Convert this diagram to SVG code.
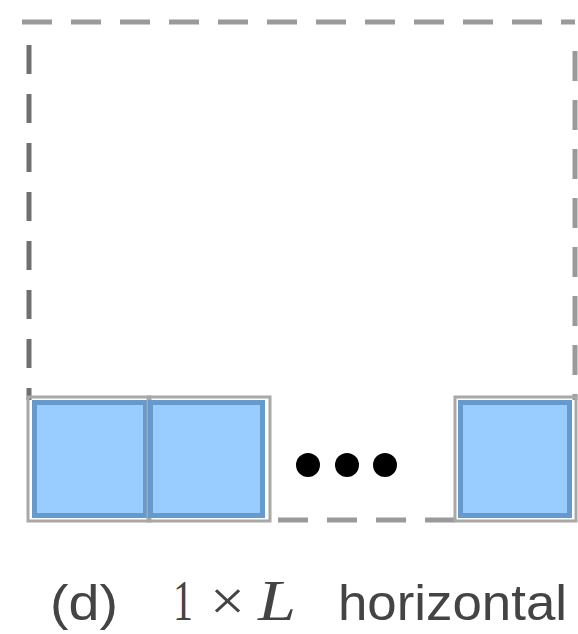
<svg xmlns="http://www.w3.org/2000/svg" width="578" height="634" viewBox="0 0 578 634">
  <style>
    .frame { fill: none; stroke: #9a9a9a; stroke-width: 5; stroke-dasharray: 30 19; }
    .frame-left { fill: none; stroke: #707070; stroke-width: 5; stroke-dasharray: 29 20; }
    .cell-out { fill: none; stroke: #a8a8a8; stroke-width: 3; }
    .cell { fill: #99ccff; stroke: #6699cc; stroke-width: 5; }
    .dot { fill: #000; }
    .txt { font-family: "Liberation Serif", "DejaVu Serif", serif; font-size: 56px; fill: #444; }
    .sans { font-family: "Liberation Sans", "DejaVu Sans", sans-serif; font-size: 50px; fill: #444; }
  </style>
  <rect width="578" height="634" fill="#fff"/>
  <g id="frame">
    <line class="frame" x1="22" y1="22" x2="575" y2="22"/>
    <line class="frame-left" x1="29" y1="45" x2="29" y2="400"/>
    <line class="frame" x1="575" y1="51" x2="575" y2="400"/>
    <line class="frame" x1="278" y1="520" x2="455" y2="520" stroke-dasharray="38 17"/>
  </g>
  <g id="box1">
    <rect class="cell-out" x="28" y="397" width="122" height="124"/>
    <rect class="cell" x="34.5" y="402.5" width="111" height="113"/>
  </g>
  <g id="box2">
    <rect class="cell-out" x="148" y="397" width="122" height="124"/>
    <rect class="cell" x="150.5" y="402.5" width="112" height="113"/>
  </g>
  <g id="ellipsis">
    <circle class="dot" cx="308" cy="465" r="12"/>
    <circle class="dot" cx="347" cy="465" r="12"/>
    <circle class="dot" cx="385" cy="465" r="12"/>
  </g>
  <g id="box3">
    <rect class="cell-out" x="455" y="397" width="121" height="124"/>
    <rect class="cell" x="460.5" y="402.5" width="109" height="113"/>
  </g>
  <g id="connectors"></g>
  <g id="caption">
    <text class="sans" x="50" y="620" textLength="68" lengthAdjust="spacingAndGlyphs">(d)</text>
    <text class="txt" x="173" y="620" textLength="20" lengthAdjust="spacingAndGlyphs">1</text>
    <text class="txt" x="210" y="620" textLength="35" lengthAdjust="spacingAndGlyphs">×</text>
    <text class="txt" x="258" y="620" font-style="italic" textLength="38" lengthAdjust="spacingAndGlyphs">L</text>
    <text class="sans" x="338" y="620" textLength="229" lengthAdjust="spacingAndGlyphs">horizontal</text>
  </g>
</svg>
